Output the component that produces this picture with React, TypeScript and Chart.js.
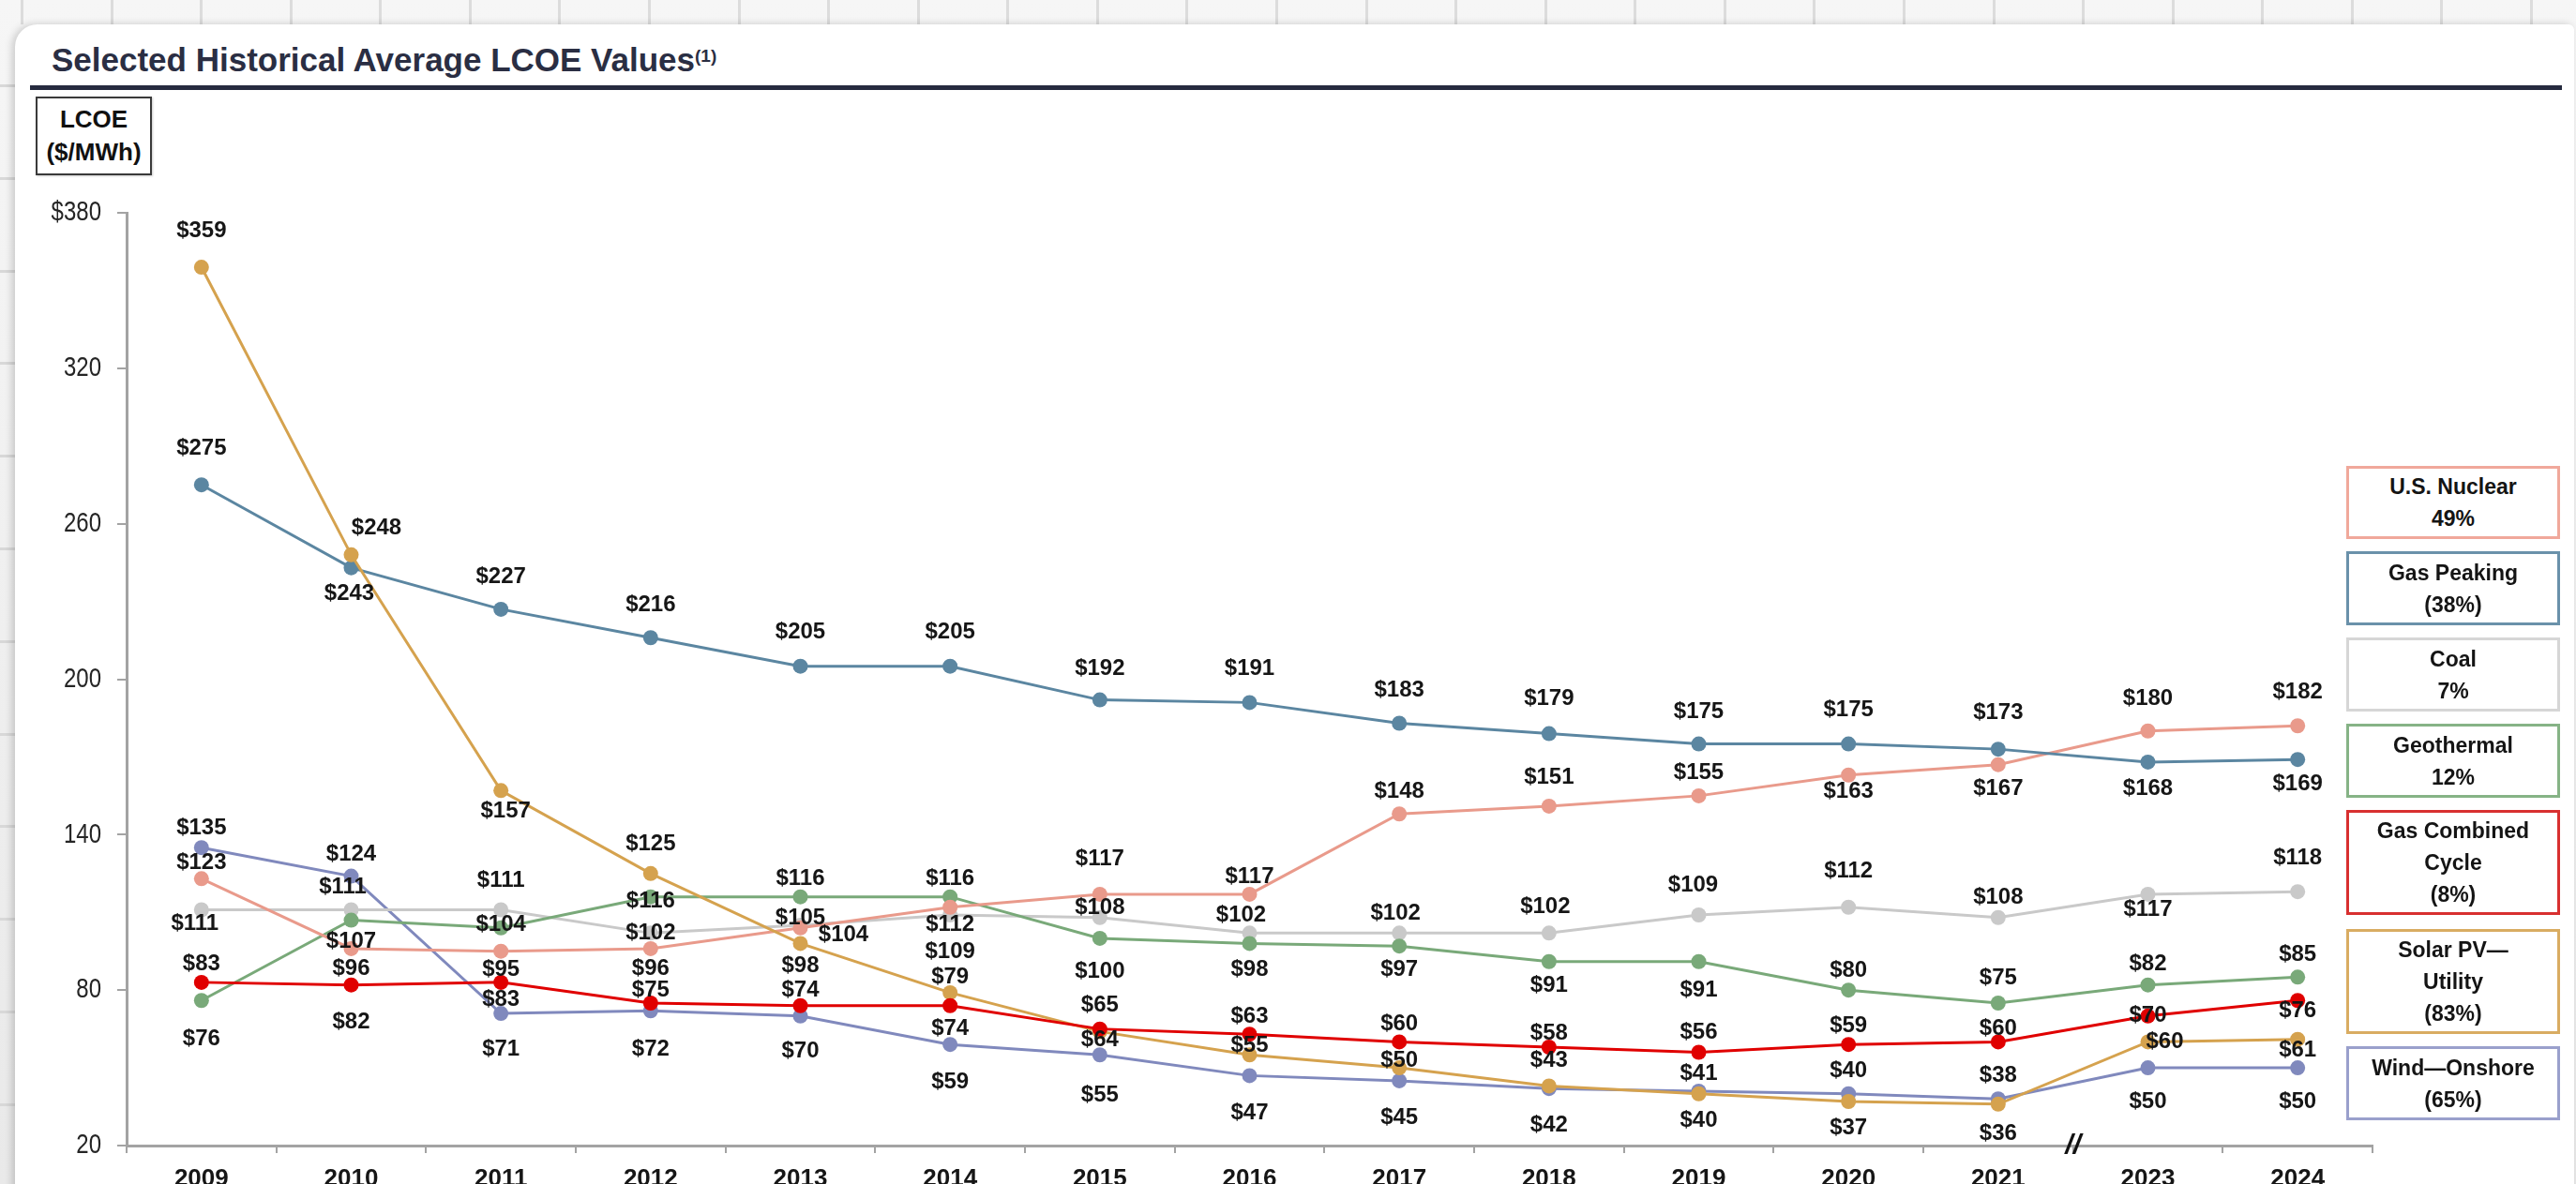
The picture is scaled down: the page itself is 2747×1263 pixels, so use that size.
import React, { useEffect, useRef } from 'react';
import { Chart, registerables } from 'chart.js';

Chart.register(...registerables);

// ---------- data ----------
const years = ['2009', '2010', '2011', '2012', '2013', '2014', '2015', '2016', '2017', '2018', '2019', '2020', '2021', '2023', '2024'];

const nuclear = [123, 96, 95, 96, 104, 112, 117, 117, 148, 151, 155, 163, 167, 180, 182];
const gasPeaking = [275, 243, 227, 216, 205, 205, 192, 191, 183, 179, 175, 175, 173, 168, 169];
const coal = [111, 111, 111, 102, 105, 109, 108, 102, 102, 102, 109, 112, 108, 117, 118];
const geothermal = [76, 107, 104, 116, 116, 116, 100, 98, 97, 91, 91, 80, 75, 82, 85];
const gasCombinedCycle = [83, 82, 83, 75, 74, 74, 65, 63, 60, 58, 56, 59, 60, 70, 76];
const solarPV = [359, 248, 157, 125, 98, 79, 64, 55, 50, 43, 40, 37, 36, 60, 61];
const windOnshore = [135, 124, 71, 72, 70, 59, 55, 47, 45, 42, 41, 40, 38, 50, 50];

const yTicks = [20, 80, 140, 200, 260, 320, 380];

const seriesNames = ['U.S. Nuclear', 'Gas Peaking', 'Coal', 'Geothermal', 'Gas Combined Cycle', 'Solar PV—Utility', 'Wind—Onshore'];
const legendLines = [
  ['U.S. Nuclear', '49%'],
  ['Gas Peaking', '(38%)'],
  ['Coal', '7%'],
  ['Geothermal', '12%'],
  ['Gas Combined', 'Cycle', '(8%)'],
  ['Solar PV—', 'Utility', '(83%)'],
  ['Wind—Onshore', '(65%)'],
];

// ---------- style ----------
const seriesColors = ['#E99A8B', '#5B86A1', '#C9C9C9', '#79A979', '#E00000', '#D5A24E', '#8089BD'];
const legendBorders = ['#F0A89B', '#6A91AA', '#D6D6D6', '#86B386', '#D83030', '#D9AC62', '#9AA0CC'];
const legendBoxes = [
  { top: 497, h: 78 },
  { top: 588, h: 79 },
  { top: 680, h: 79 },
  { top: 772, h: 79 },
  { top: 864, h: 112 },
  { top: 991, h: 112 },
  { top: 1116, h: 79 },
];

// label offsets (px) relative to each point
const labelDy = [
  [-17, 21, 20, 21, 8, 19, -38, -19, -24, -31, -25, 18, 26, -34, -36],
  [-39, 28, -35, -35, -36, -36, -33, -36, -35, -37, -34, -36, -39, 28, 26],
  [15, -24, -31, 0, -8, 39, -10, -19, -21, -28, -32, -38, -21, 16, -36],
  [41, 23, -3, 5, -19, -19, 35, 28, 25, 26, 31, -21, -27, -22, -24],
  [-20, 40, 18, -14, -16, 25, -25, -19, -19, -15, -21, -20, -14, 0, 11],
  [-39, -28, 22, -31, 24, -17, 9, -10, -8, -27, 29, 28, 32, 0, 12],
  [-21, -23, 38, 41, 38, 40, 43, 40, 39, 39, -19, -24, -25, 36, 36],
];
const labelDx = [
  [0, 0, 0, 0, 46, 0, 0, 0, 0, 0, 0, 0, 0, 0, 0],
  [0, -2, 0, 0, 0, 0, 0, 0, 0, 0, 0, 0, 0, 0, 0],
  [-7, -9, 0, 0, 0, 0, 0, -9, -4, -4, -6, 0, 0, 0, 0],
  [0, 0, 0, 0, 0, 0, 0, 0, 0, 0, 0, 0, 0, 0, 0],
  [0, 0, 0, 0, 0, 0, 0, 0, 0, 0, 0, 0, 0, 0, 0],
  [0, 27, 5, 0, 0, 0, 0, 0, 0, 0, 0, 0, 0, 18, 0],
  [0, 0, 0, 0, 0, 0, 0, 0, 0, 0, 0, 0, 0, 0, 0],
];

const W = 2747;
const H = 1263;
const SANS = '"Liberation Sans", Arial, Helvetica, sans-serif';

const yTickLabel = (v: number) => (v === 380 ? '$380' : String(v));

const valueLabels = {
  id: 'valueLabels',
  afterDatasetsDraw(chart: any) {
    const ctx = chart.ctx;
    ctx.save();
    ctx.font = `bold 24px ${SANS}`;
    ctx.fillStyle = '#161616';
    ctx.textAlign = 'center';
    ctx.textBaseline = 'middle';
    chart.data.datasets.forEach((ds: any, i: number) => {
      const meta = chart.getDatasetMeta(i);
      const idx = ds.seriesIndex;
      meta.data.forEach((pt: any, j: number) => {
        const dx = labelDx[idx][j] || 0;
        const dy = labelDy[idx][j] || 0;
        ctx.fillText('$' + ds.data[j], pt.x + dx, pt.y + dy);
      });
    });
    // axis break marker between 2021 and 2023
    const xs = chart.scales.x;
    const bx = (xs.getPixelForValue(12) + xs.getPixelForValue(13)) / 2;
    ctx.font = `italic bold 30px ${SANS}`;
    ctx.fillStyle = '#111';
    ctx.fillText('//', bx, chart.chartArea.bottom + 1);
    ctx.restore();
  },
  afterDraw(chart: any) {
    // condensed y-axis tick labels (narrow face), positioned from the y scale
    const ctx = chart.ctx;
    const ys = chart.scales.y;
    const sx = 0.8;
    ctx.save();
    ctx.font = `30px ${SANS}`;
    ctx.fillStyle = '#252525';
    ctx.textAlign = 'right';
    ctx.textBaseline = 'middle';
    ctx.scale(sx, 1);
    ys.ticks.forEach((t: any) => {
      const y = ys.getPixelForValue(t.value);
      ctx.fillText(yTickLabel(t.value), (ys.right - 27) / sx, y);
    });
    ctx.restore();
  },
};

export default function App() {
  const canvasRef = useRef<HTMLCanvasElement | null>(null);

  useEffect(() => {
    const canvas = canvasRef.current;
    if (!canvas) return;
    const allSeries = [nuclear, gasPeaking, coal, geothermal, gasCombinedCycle, solarPV, windOnshore];
    const drawOrder = [3, 2, 5, 4, 0, 1, 6];
    const chart = new Chart(canvas, {
      type: 'line',
      data: {
        labels: years,
        datasets: allSeries.map((s, i) => ({
          label: seriesNames[i],
          data: s,
          seriesIndex: i,
          order: drawOrder[i],
          borderColor: seriesColors[i],
          backgroundColor: seriesColors[i],
          pointBackgroundColor: seriesColors[i],
          pointBorderColor: seriesColors[i],
          borderWidth: 3,
          pointRadius: 8,
          pointBorderWidth: 0,
          tension: 0,
          fill: false,
        })) as any,
      },
      options: {
        animation: false,
        responsive: false,
        maintainAspectRatio: false,
        devicePixelRatio: 1,
        layout: { padding: { left: 0, right: 217, top: 227, bottom: 0 } },
        plugins: {
          legend: { display: false },
          tooltip: { enabled: false },
          title: { display: false },
        },
        scales: {
          x: {
            type: 'category',
            offset: true,
            afterFit: (scale: any) => {
              scale.height = 41;
            },
            grid: {
              offset: true,
              drawOnChartArea: false,
              drawTicks: true,
              tickLength: 8,
              color: '#a3a3a3',
              lineWidth: 2,
            },
            border: { display: true, color: '#a3a3a3', width: 3 },
            ticks: {
              autoSkip: false,
              maxRotation: 0,
              padding: 12,
              color: '#161616',
              font: { family: SANS, size: 26, weight: 'bold' },
            },
          },
          y: {
            min: 20,
            max: 380,
            afterFit: (scale: any) => {
              scale.width = 135;
            },
            afterBuildTicks: (scale: any) => {
              scale.ticks = yTicks.map((v) => ({ value: v }));
            },
            grid: {
              drawOnChartArea: false,
              drawTicks: true,
              tickLength: 10,
              color: '#a3a3a3',
              lineWidth: 2,
            },
            border: { display: true, color: '#a3a3a3', width: 3 },
            ticks: {
              display: false,
              callback: (v: any) => yTickLabel(Number(v)),
            },
          },
        },
      } as any,
      plugins: [valueLabels as any],
    });
    return () => chart.destroy();
  }, []);

  const vLines = Array.from({ length: 29 }, (_, k) => 22 + k * 95.57);
  const hLines = Array.from({ length: 13 }, (_, k) => 90 + k * 98.8);

  return (
    <div
      style={{
        position: 'absolute',
        left: 0,
        top: 0,
        width: W,
        height: H,
        overflow: 'hidden',
        background: 'linear-gradient(#f6f6f6, #e9e9e9)',
        fontFamily: SANS,
      }}
    >
      {vLines.map((x, k) => (
        <div key={'v' + k} style={{ position: 'absolute', left: x, top: 0, width: 3, height: 26, background: '#dcdcdc' }} />
      ))}
      {hLines.map((y, k) => (
        <div key={'h' + k} style={{ position: 'absolute', left: 0, top: y, width: 16, height: 3, background: '#d8d8d8' }} />
      ))}
      <div
        style={{
          position: 'absolute',
          left: 16,
          top: 26,
          width: 2729,
          height: 1300,
          background: '#ffffff',
          borderRadius: '24px 6px 0 0',
          boxShadow: '-3px 0 8px rgba(0,0,0,0.18)',
        }}
      />
      <div
        style={{
          position: 'absolute',
          left: 55,
          top: 46,
          fontSize: 35,
          lineHeight: '35px',
          fontWeight: 'bold',
          color: '#2a2e43',
          whiteSpace: 'nowrap',
        }}
      >
        Selected Historical Average LCOE Values
        <span style={{ fontSize: 19, verticalAlign: 'top', position: 'relative', top: -4 }}>(1)</span>
      </div>
      <div style={{ position: 'absolute', left: 32, top: 91, width: 2700, height: 5, background: '#262b3f' }} />
      <div
        style={{
          position: 'absolute',
          left: 38,
          top: 103,
          width: 124,
          height: 84,
          boxSizing: 'border-box',
          border: '2.5px solid #3a3a3a',
          display: 'flex',
          flexDirection: 'column',
          justifyContent: 'center',
          alignItems: 'center',
          fontWeight: 'bold',
          fontSize: 26,
          lineHeight: '35px',
          color: '#111',
          boxShadow: '1px 1px 2px rgba(0,0,0,0.2)',
        }}
      >
        <div>LCOE</div>
        <div>($/MWh)</div>
      </div>
      <canvas ref={canvasRef} width={W} height={H} style={{ position: 'absolute', left: 0, top: 0, width: W, height: H }} />
      {legendLines.map((lines, i) => (
        <div
          key={'lg' + i}
          style={{
            position: 'absolute',
            left: 2502,
            top: legendBoxes[i].top,
            width: 228,
            height: legendBoxes[i].h,
            boxSizing: 'border-box',
            border: `3px solid ${legendBorders[i]}`,
            background: '#fff',
            display: 'flex',
            flexDirection: 'column',
            justifyContent: 'center',
            alignItems: 'center',
            fontWeight: 'bold',
            fontSize: 23,
            lineHeight: '34px',
            color: '#141414',
            textAlign: 'center',
          }}
        >
          {lines.map((t, k) => (
            <div key={k}>{t}</div>
          ))}
        </div>
      ))}
    </div>
  );
}
